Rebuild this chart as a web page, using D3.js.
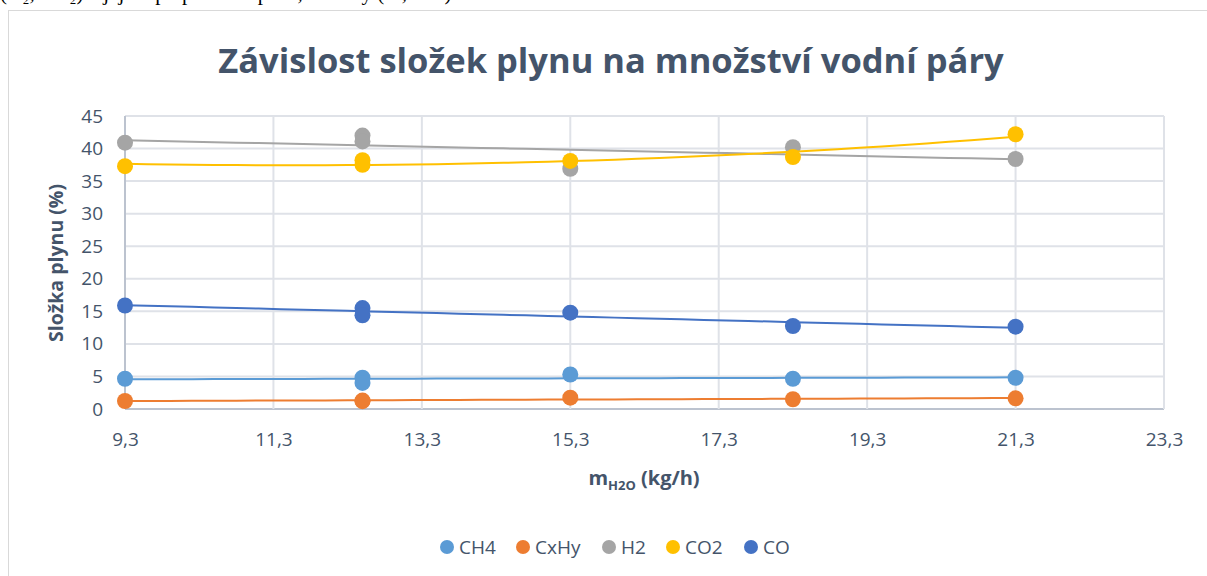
<!DOCTYPE html>
<meta charset="utf-8">
<style>
  body { margin: 0; background: #fff; }
  svg text { font-family: "Open Sans", "Noto Sans", sans-serif; }
</style>
<body>
<script src="https://d3js.org/d3.v7.min.js"></script>
<script>

// data (x = m_H2O in kg/h)
var xVals   = [9.3, 12.5, 12.5, 15.3, 18.3, 21.3];
var ch4     = [4.65, 4.8, 4.0, 5.3, 4.65, 4.8];
var cxhy    = [1.23, 1.2, 1.3, 1.74, 1.5, 1.64];
var h2      = [40.9, 42.0, 41.1, 36.9, 40.2, 38.4];
var co2     = [37.3, 38.2, 37.5, 38.1, 38.7, 42.2];
var co      = [15.9, 15.5, 14.4, 14.8, 12.75, 12.65];

var seriesNames = ["CH4", "CxHy", "H2", "CO2", "CO"];
var seriesVals = [ch4, cxhy, h2, co2, co];
var colors = ["#5B9BD5", "#ED7D31", "#A5A5A5", "#FFC000", "#4472C4"];
var trendOrder = [1, 1, 1, 2, 1];   // CO2 uses a 2nd order polynomial trendline

var xTicks = [9.3, 11.3, 13.3, 15.3, 17.3, 19.3, 21.3, 23.3];
var yTicks = [0, 5, 10, 15, 20, 25, 30, 35, 40, 45];

var W = 1207, H = 576;
var textColor = "#44546A";

var svg = d3.select("body").append("svg")
  .attr("width", W).attr("height", H);

// bit of document text cut at the top of the picture
svg.append("text")
  .attr("x", 0).attr("y", 0)
  .style("font-family", "'Liberation Serif', serif")
  .style("font-size", "21px")
  .attr("fill", "#000")
  .text("(H₂, CO₂) a jejich přepočet na plast, hořlavý (%, hm.).");

// chart frame
svg.append("rect")
  .attr("x", 8.5).attr("y", 10.5)
  .attr("width", W + 20).attr("height", H + 20)
  .attr("fill", "#fff")
  .attr("stroke", "#d9d9d9");

var x = d3.scaleLinear().domain([9.3, 23.3]).range([125, 1164]);
var y = d3.scaleLinear().domain([0, 45]).range([409, 116]);

// title
svg.append("text")
  .attr("x", 611).attr("y", 73)
  .attr("text-anchor", "middle")
  .style("font-size", "34.5px")
  .style("font-weight", "bold")
  .attr("fill", textColor)
  .text("Závislost složek plynu na množství vodní páry");

// gridlines
svg.append("g")
  .selectAll("line.gy")
  .data(yTicks)
  .join("line")
    .attr("x1", x(9.3)).attr("x2", x(23.3))
    .attr("y1", function(d){ return y(d) }).attr("y2", function(d){ return y(d) })
    .attr("stroke", function(d){ return d === 0 ? "#bcc3cf" : "#dfe2e8" })
    .attr("stroke-width", 2);

svg.append("g")
  .selectAll("line.gx")
  .data(xTicks)
  .join("line")
    .attr("x1", function(d){ return x(d) }).attr("x2", function(d){ return x(d) })
    .attr("y1", y(0)).attr("y2", y(45))
    .attr("stroke", function(d){ return d === 9.3 ? "#bcc3cf" : "#dfe2e8" })
    .attr("stroke-width", 2);

// axes (labels only)
var xAxis = svg.append("g")
  .attr("transform", "translate(0," + y(0) + ")")
  .call(d3.axisBottom(x).tickValues(xTicks).tickSize(0).tickPadding(24)
    .tickFormat(function(d){ return d3.format(".1f")(d).replace(".", ",") }));
var yAxis = svg.append("g")
  .attr("transform", "translate(" + (x(9.3) - 22) + ",0)")
  .call(d3.axisLeft(y).tickValues(yTicks).tickSize(0).tickPadding(0));
[xAxis, yAxis].forEach(function(a){
  a.select(".domain").remove();
  a.selectAll("text")
    .style("font-family", "'Open Sans', sans-serif")
    .style("font-size", "19px")
    .attr("fill", textColor);
});

// axis titles
svg.append("text")
  .attr("transform", "translate(63,263) rotate(-90)")
  .attr("text-anchor", "middle")
  .style("font-size", "19.5px")
  .style("font-weight", "bold")
  .attr("fill", textColor)
  .text("Složka plynu (%)");

var xt = svg.append("text")
  .attr("x", 644).attr("y", 485)
  .attr("text-anchor", "middle")
  .style("font-size", "20px")
  .style("font-weight", "bold")
  .attr("fill", textColor);
xt.append("tspan").text("m");
xt.append("tspan").attr("dy", 5).style("font-size", "13px").text("H2O");
xt.append("tspan").attr("dy", -5).text(" (kg/h)");

// least squares polynomial fit
function polyfit(xs, ys, order) {
  var n = order + 1;
  var A = [], b = [];
  for (var i = 0; i < n; i++) {
    A.push([]);
    for (var j = 0; j < n; j++) A[i].push(d3.sum(xs, function(v){ return Math.pow(v, i + j) }));
    b.push(d3.sum(xs, function(v, k){ return ys[k] * Math.pow(v, i) }));
  }
  // gaussian elimination
  for (var c = 0; c < n; c++) {
    for (var r = c + 1; r < n; r++) {
      var f = A[r][c] / A[c][c];
      for (var k = c; k < n; k++) A[r][k] -= f * A[c][k];
      b[r] -= f * b[c];
    }
  }
  var coef = new Array(n);
  for (var r2 = n - 1; r2 >= 0; r2--) {
    var s = b[r2];
    for (var k2 = r2 + 1; k2 < n; k2++) s -= A[r2][k2] * coef[k2];
    coef[r2] = s / A[r2][r2];
  }
  return function(v){ return d3.sum(coef, function(cf, p){ return cf * Math.pow(v, p) }) };
}

var line = d3.line()
  .x(function(d){ return x(d[0]) })
  .y(function(d){ return y(d[1]) });

var xs = d3.range(0, 41).map(function(i){ return 9.3 + i * 0.3 });

seriesNames.forEach(function(name, si) {
  var vals = seriesVals[si];
  var fit = polyfit(xVals, vals, trendOrder[si]);
  svg.append("path")
    .datum(xs.map(function(v){ return [v, fit(v)] }))
    .attr("d", line)
    .attr("fill", "none")
    .attr("stroke", colors[si])
    .attr("stroke-width", 2);

  svg.append("g")
    .selectAll("circle")
    .data(xVals.map(function(v, i){ return [v, vals[i]] }))
    .join("circle")
      .attr("cx", function(d){ return x(d[0]) })
      .attr("cy", function(d){ return y(d[1]) })
      .attr("r", 8)
      .attr("fill", colors[si]);
});

// legend
var legendX = [447, 523, 609, 673, 751];
var lg = svg.append("g")
  .selectAll("g")
  .data(seriesNames)
  .join("g")
    .attr("transform", function(d, i){ return "translate(" + legendX[i] + ",547)" });
lg.append("circle").attr("r", 7).attr("fill", function(d, i){ return colors[i] });
lg.append("text")
  .attr("x", 12).attr("y", 7)
  .style("font-size", "19px")
  .attr("fill", textColor)
  .text(function(d){ return d });

</script>
</body>
